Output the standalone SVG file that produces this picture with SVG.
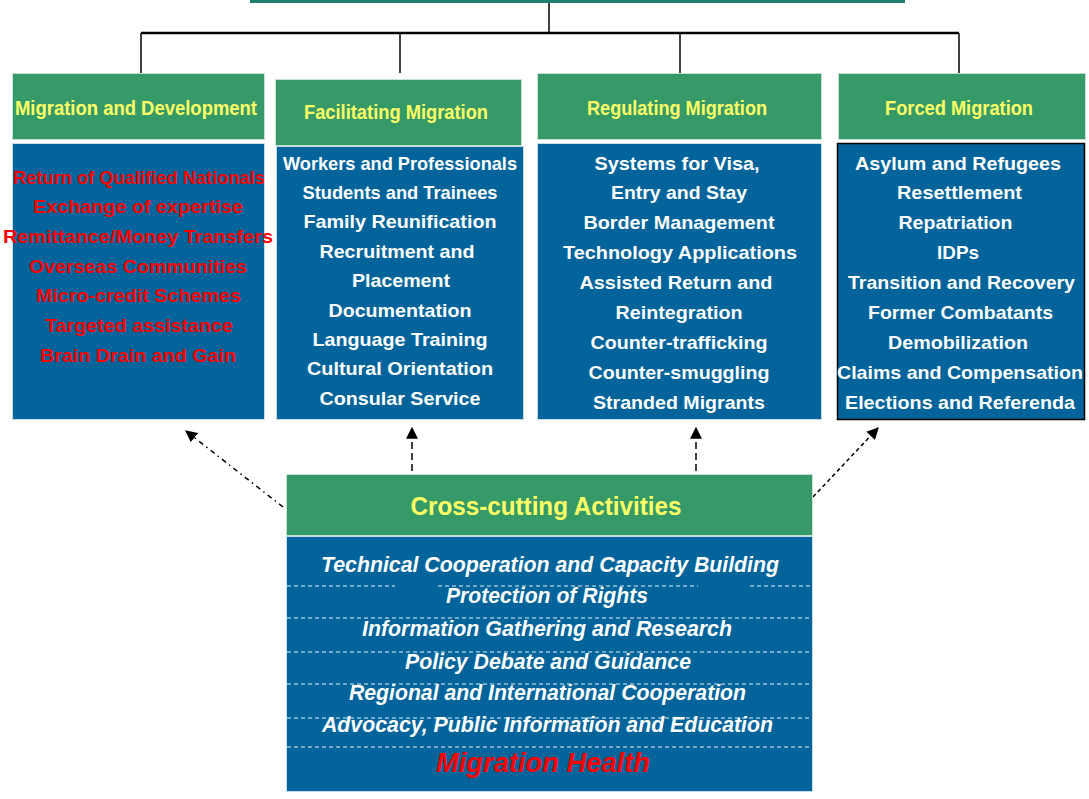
<svg xmlns="http://www.w3.org/2000/svg" width="1089" height="799" viewBox="0 0 1089 799">
<style>
.hdr{fill:#359a68;stroke:#c8e0d2;stroke-width:1}
.body{fill:#02649a;stroke:#c8dce8;stroke-width:1}
.ht{font-family:"Liberation Sans",Arial,sans-serif;font-weight:bold;font-size:21px;fill:#ffff66;text-anchor:middle}
.bt{font-family:"Liberation Sans",Arial,sans-serif;font-weight:bold;font-size:19px;fill:#ffffff;text-anchor:middle}
.rt{fill:#ff0000}
.it{font-family:"Liberation Sans",Arial,sans-serif;font-weight:bold;font-style:italic;font-size:22px;fill:#ffffff;text-anchor:middle}
.mh{font-size:28px;fill:#ff0000}
.conn{stroke:#000;fill:none}
.dl{stroke:#e6eef4;stroke-width:1;stroke-dasharray:4 3;fill:none}
</style>
<defs>
<marker id="ah" viewBox="0 0 10 10" refX="9" refY="5" markerWidth="12" markerHeight="12" markerUnits="userSpaceOnUse" orient="auto">
<path d="M0,0 L10,5 L0,10 z" fill="#000"/>
</marker>
</defs>
<rect width="1089" height="799" fill="#ffffff"/>
<g id="connectors">
<line x1="250" y1="1.5" x2="905" y2="1.5" stroke="#1f7f70" stroke-width="3"/>
<line class="conn" x1="549" y1="3" x2="549" y2="33" stroke-width="1.5"/>
<line class="conn" x1="141" y1="33" x2="959" y2="33" stroke-width="2.5"/>
<line class="conn" x1="141" y1="33" x2="141" y2="74" stroke-width="1.5"/>
<line class="conn" x1="400" y1="33" x2="400" y2="73" stroke-width="1.5"/>
<line class="conn" x1="680" y1="33" x2="680" y2="74" stroke-width="1.5"/>
<line class="conn" x1="959" y1="33" x2="959" y2="74" stroke-width="1.5"/>
<line class="conn" x1="283" y1="507" x2="186" y2="431" stroke-width="1.5" stroke-dasharray="5 4 1.5 4" marker-end="url(#ah)"/>
<line class="conn" x1="412" y1="471" x2="412" y2="428" stroke-width="1.5" stroke-dasharray="7 4" marker-end="url(#ah)"/>
<line class="conn" x1="696" y1="471" x2="696" y2="428" stroke-width="1.5" stroke-dasharray="7 4" marker-end="url(#ah)"/>
<line class="conn" x1="813" y1="497" x2="878" y2="428" stroke-width="1.5" stroke-dasharray="4 3" marker-end="url(#ah)"/>
</g>
<g id="migration-development">
<rect class="hdr" x="12.5" y="73.5" width="252" height="66"/>
<text class="ht" x="136" y="115" textLength="242" lengthAdjust="spacingAndGlyphs">Migration and Development</text>
<rect class="body" x="12.5" y="143.5" width="252" height="276"/>
<text class="bt rt" x="139" y="183.5" textLength="252" lengthAdjust="spacingAndGlyphs">Return of Qualified Nationals</text>
<text class="bt rt" x="138" y="213.2" textLength="210" lengthAdjust="spacingAndGlyphs">Exchange of expertise</text>
<text class="bt rt" x="138" y="242.9" textLength="270" lengthAdjust="spacingAndGlyphs">Remittance/Money Transfers</text>
<text class="bt rt" x="138" y="272.6" textLength="218" lengthAdjust="spacingAndGlyphs">Overseas Communities</text>
<text class="bt rt" x="138.5" y="302.3" textLength="205" lengthAdjust="spacingAndGlyphs">Micro-credit Schemes</text>
<text class="bt rt" x="139" y="332" textLength="188" lengthAdjust="spacingAndGlyphs">Targeted assistance</text>
<text class="bt rt" x="138" y="361.7" textLength="196" lengthAdjust="spacingAndGlyphs">Brain Drain and Gain</text>
</g>
<g id="facilitating-migration">
<rect class="hdr" x="275.5" y="79.5" width="246" height="66"/>
<text class="ht" x="396" y="119" textLength="184" lengthAdjust="spacingAndGlyphs">Facilitating Migration</text>
<rect class="body" x="276.5" y="146.5" width="247" height="273"/>
<text class="bt" x="400" y="169.5" textLength="234" lengthAdjust="spacingAndGlyphs">Workers and Professionals</text>
<text class="bt" x="400" y="198.9" textLength="195" lengthAdjust="spacingAndGlyphs">Students and Trainees</text>
<text class="bt" x="400" y="228.3" textLength="193" lengthAdjust="spacingAndGlyphs">Family Reunification</text>
<text class="bt" x="397" y="257.7" textLength="155" lengthAdjust="spacingAndGlyphs">Recruitment and</text>
<text class="bt" x="401" y="287.1" textLength="98" lengthAdjust="spacingAndGlyphs">Placement</text>
<text class="bt" x="400" y="316.5" textLength="143" lengthAdjust="spacingAndGlyphs">Documentation</text>
<text class="bt" x="400" y="345.9" textLength="175" lengthAdjust="spacingAndGlyphs">Language Training</text>
<text class="bt" x="400" y="375.3" textLength="186" lengthAdjust="spacingAndGlyphs">Cultural Orientation</text>
<text class="bt" x="400" y="404.7" textLength="161" lengthAdjust="spacingAndGlyphs">Consular Service</text>
</g>
<g id="regulating-migration">
<rect class="hdr" x="537.5" y="73.5" width="284" height="66"/>
<text class="ht" x="677" y="115" textLength="180" lengthAdjust="spacingAndGlyphs">Regulating Migration</text>
<rect class="body" x="537.5" y="143.5" width="284" height="276"/>
<text class="bt" x="677" y="169.5" textLength="165" lengthAdjust="spacingAndGlyphs">Systems for Visa,</text>
<text class="bt" x="679" y="199.4" textLength="136" lengthAdjust="spacingAndGlyphs">Entry and Stay</text>
<text class="bt" x="679" y="229.3" textLength="191" lengthAdjust="spacingAndGlyphs">Border Management</text>
<text class="bt" x="680" y="259.2" textLength="234" lengthAdjust="spacingAndGlyphs">Technology Applications</text>
<text class="bt" x="676" y="289.1" textLength="193" lengthAdjust="spacingAndGlyphs">Assisted Return and</text>
<text class="bt" x="679" y="319" textLength="127" lengthAdjust="spacingAndGlyphs">Reintegration</text>
<text class="bt" x="679" y="348.9" textLength="177" lengthAdjust="spacingAndGlyphs">Counter-trafficking</text>
<text class="bt" x="679" y="378.8" textLength="181" lengthAdjust="spacingAndGlyphs">Counter-smuggling</text>
<text class="bt" x="679" y="408.7" textLength="172" lengthAdjust="spacingAndGlyphs">Stranded Migrants</text>
</g>
<g id="forced-migration">
<rect class="hdr" x="838.5" y="73.5" width="247" height="66"/>
<text class="ht" x="959" y="115" textLength="148" lengthAdjust="spacingAndGlyphs">Forced Migration</text>
<rect x="837.5" y="143.5" width="247" height="276" fill="#02649a" stroke="#000" stroke-width="1.5"/>
<text class="bt" x="958" y="169.5" textLength="206" lengthAdjust="spacingAndGlyphs">Asylum and Refugees</text>
<text class="bt" x="959.5" y="199.4" textLength="125" lengthAdjust="spacingAndGlyphs">Resettlement</text>
<text class="bt" x="955.5" y="229.3" textLength="114" lengthAdjust="spacingAndGlyphs">Repatriation</text>
<text class="bt" x="958" y="259.2" textLength="42" lengthAdjust="spacingAndGlyphs">IDPs</text>
<text class="bt" x="961.5" y="289.1" textLength="227" lengthAdjust="spacingAndGlyphs">Transition and Recovery</text>
<text class="bt" x="960.5" y="319" textLength="185" lengthAdjust="spacingAndGlyphs">Former Combatants</text>
<text class="bt" x="958" y="348.9" textLength="140" lengthAdjust="spacingAndGlyphs">Demobilization</text>
<text class="bt" x="960" y="378.8" textLength="246" lengthAdjust="spacingAndGlyphs">Claims and Compensation</text>
<text class="bt" x="960" y="408.7" textLength="230" lengthAdjust="spacingAndGlyphs">Elections and Referenda</text>
</g>
<g id="cross-cutting">
<rect class="hdr" x="286.5" y="474.5" width="526" height="61"/>
<text x="546" y="515" font-family="'Liberation Sans',Arial,sans-serif" font-weight="bold" font-size="25" fill="#ffff66" text-anchor="middle" textLength="271" lengthAdjust="spacingAndGlyphs">Cross-cutting Activities</text>
<rect class="body" x="286.5" y="536.5" width="526" height="255"/>
<path class="dl" d="M287,586 H395 M438,586 H698 M750,586 H812 M287,618 H812 M287,652 H812 M287,684 H812 M287,718 H812 M287,747 H812"/>
<text class="it" x="550" y="572" textLength="458" lengthAdjust="spacingAndGlyphs">Technical Cooperation and Capacity Building</text>
<text class="it" x="547" y="603" textLength="202" lengthAdjust="spacingAndGlyphs">Protection of Rights</text>
<text class="it" x="547" y="636" textLength="370" lengthAdjust="spacingAndGlyphs">Information Gathering and Research</text>
<text class="it" x="548" y="669" textLength="286" lengthAdjust="spacingAndGlyphs">Policy Debate and Guidance</text>
<text class="it" x="547.5" y="700" textLength="397" lengthAdjust="spacingAndGlyphs">Regional and International Cooperation</text>
<text class="it" x="547.5" y="732" textLength="451" lengthAdjust="spacingAndGlyphs">Advocacy, Public Information and Education</text>
<text class="it mh" x="543" y="772" textLength="214" lengthAdjust="spacingAndGlyphs">Migration Health</text>
</g>
</svg>
